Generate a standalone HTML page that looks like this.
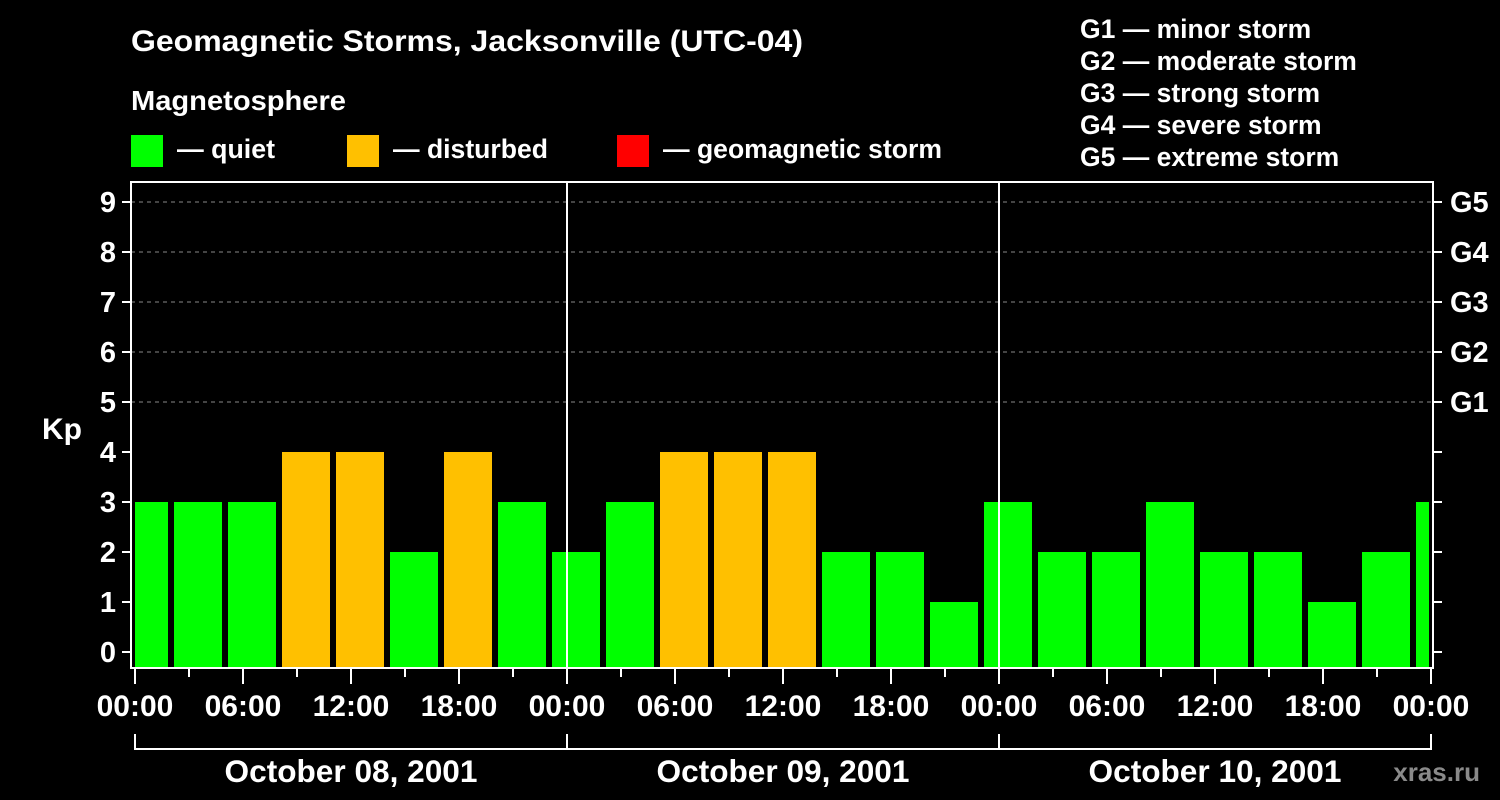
<!DOCTYPE html>
<html><head><meta charset="utf-8"><style>
body{margin:0;background:#000;width:1500px;height:800px;overflow:hidden}
svg{display:block}
text{font-family:"Liberation Sans",Arial,sans-serif;font-weight:bold;fill:#fff}
</style></head><body>
<svg id="c" width="1500" height="800">
<text x="131" y="51" font-size="30" textLength="672" lengthAdjust="spacingAndGlyphs">Geomagnetic Storms, Jacksonville (UTC-04)</text>
<text x="131" y="110" font-size="28" textLength="215" lengthAdjust="spacingAndGlyphs">Magnetosphere</text>
<rect x="131" y="135" width="32" height="32" fill="#00ff00"/>
<text x="177" y="158" font-size="27" textLength="98" lengthAdjust="spacingAndGlyphs">— quiet</text>
<rect x="347" y="135" width="32" height="32" fill="#ffc000"/>
<text x="393" y="158" font-size="27" textLength="155" lengthAdjust="spacingAndGlyphs">— disturbed</text>
<rect x="617" y="135" width="32" height="32" fill="#ff0000"/>
<text x="663" y="158" font-size="27" textLength="279" lengthAdjust="spacingAndGlyphs">— geomagnetic storm</text>
<g font-size="26.5">
<text x="1080" y="38">G1 — minor storm</text>
<text x="1080" y="70">G2 — moderate storm</text>
<text x="1080" y="102">G3 — strong storm</text>
<text x="1080" y="134">G4 — severe storm</text>
<text x="1080" y="166">G5 — extreme storm</text>
</g>
<text x="42" y="439" font-size="30">Kp</text>
<text x="1480" y="781" font-size="26" style="fill:#8a8a8a" text-anchor="end">xras.ru</text>
<g id="plot"></g>
</svg>
<script>
const kpValues=[3,3,3,4,4,2,4,3,2,3,4,4,4,2,2,1,3,2,2,3,2,2,1,2,3];
const dayLabels=["October 08, 2001","October 09, 2001","October 10, 2001"];
const hourLabels=["00:00","06:00","12:00","18:00"];
const gLabels=["G1","G2","G3","G4","G5"];
const yTicks=[0,1,2,3,4,5,6,7,8,9];
const NS="http://www.w3.org/2000/svg";
const L=131,R=1433,T=182,B=668;
const x=h=>135+18*h;
const y=v=>652-50*v;
const g=document.getElementById('plot');
function mk(tag,a,parent){const e=document.createElementNS(NS,tag);for(const k in a)e.setAttribute(k,a[k]);(parent||g).appendChild(e);return e;}
for(let v=5;v<=9;v++){const e=mk('line',{x1:L,x2:R,y1:y(v),y2:y(v),stroke:'#888','stroke-dasharray':'4,4','stroke-width':1});

}
kpValues.forEach((v,k)=>{let h0=3*k-15/18,h1=h0+48/18;let x0=Math.max(x(h0),135),x1=Math.min(x(h1),1429);
const col=v>=5?'#ff0000':(v>=4?'#ffc000':'#00ff00');
const e=mk('rect',{x:x0,y:y(v),width:x1-x0,height:B-1-y(v),fill:col});

});
for(let d=1;d<3;d++){const e=mk('line',{x1:x(24*d),x2:x(24*d),y1:T,y2:B,stroke:'#fff','stroke-width':2});

}
const fr=mk('rect',{x:L,y:T,width:R-L,height:B-T,fill:'none',stroke:'#fff','stroke-width':2});


yTicks.forEach(v=>{mk('line',{x1:L-9,x2:L,y1:y(v),y2:y(v),stroke:'#fff','stroke-width':2});
mk('line',{x1:R,x2:R+9,y1:y(v),y2:y(v),stroke:'#fff','stroke-width':2});
const t=mk('text',{x:116,y:y(v)+10,'font-size':29,'text-anchor':'end'});t.textContent=v;

});
gLabels.forEach((s,i)=>{const t=mk('text',{x:1450,y:y(5+i)+10,'font-size':29});t.textContent=s;

});
for(let h=0;h<=72;h+=3){const long=h%6===0;mk('line',{x1:x(h),x2:x(h),y1:B,y2:B+(long?16:9),stroke:'#fff','stroke-width':2});
if(long){const t=mk('text',{x:x(h),y:716,'font-size':30,'text-anchor':'middle'});t.textContent=hourLabels[(h/6)%4];

}}
mk('line',{x1:x(0),x2:x(72),y1:749,y2:749,stroke:'#fff','stroke-width':2});
for(let d=0;d<=3;d++)mk('line',{x1:x(24*d),x2:x(24*d),y1:734,y2:750,stroke:'#fff','stroke-width':2});
dayLabels.forEach((s,d)=>{const t=mk('text',{x:x(24*d+12),y:782,'font-size':31.6,'text-anchor':'middle'});t.textContent=s;

});
</script>
</body></html>
